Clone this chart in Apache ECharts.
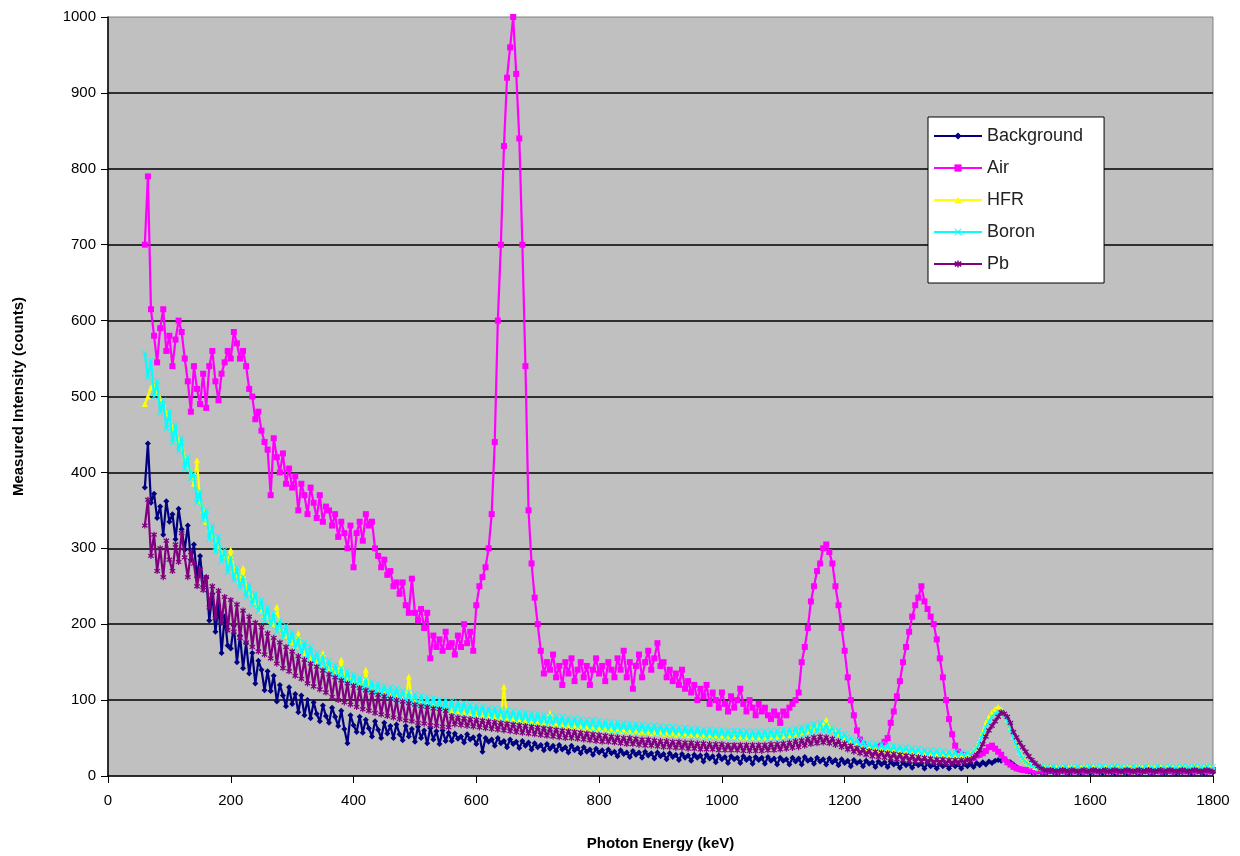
<!DOCTYPE html>
<html>
<head>
<meta charset="utf-8">
<script src="https://cdn.jsdelivr.net/npm/echarts@6/dist/echarts.min.js"></script>
<style>
  html, body { margin: 0; padding: 0; background: #fff; }
  #chart { width: 1240px; height: 856px; }
</style>
</head>
<body>
<div id="chart"></div>
<script>
// channel energies: first channel and spacing (keV)
const energyStart = 60;
const energyStep = 5;

const seriesNames = ['Background', 'Air', 'HFR', 'Boron', 'Pb'];
const seriesColors = ['#000080', '#ff00ff', '#ffff00', '#00ffff', '#800080'];

// each row = 100 keV (20 channels), last row 1760-1800
const background = [
  380, 438, 360, 372, 340, 355, 318, 362, 335, 345, 312, 352, 325, 298, 330, 285, 305, 262, 290, 250,
  262, 205, 240, 190, 225, 162, 210, 172, 168, 198, 150, 185, 142, 175, 135, 162, 122, 152, 140, 113,
  138, 112, 132, 98, 120, 106, 92, 117, 95, 108, 84, 106, 80, 100, 76, 97, 82, 72, 93, 79,
  70, 90, 78, 66, 86, 62, 43, 80, 67, 58, 78, 57, 74, 63, 52, 72, 61, 50, 70, 56,
  66, 50, 68, 55, 47, 66, 52, 62, 45, 65, 50, 60, 43, 63, 48, 59, 42, 60, 46, 57,
  46, 56, 49, 52, 44, 55, 48, 51, 42, 53, 32, 50, 45, 48, 40, 50, 43, 46, 38, 48,
  42, 45, 37, 46, 40, 44, 35, 43, 38, 41, 34, 42, 36, 40, 33, 41, 35, 38, 31, 40,
  34, 37, 30, 38, 32, 35, 28, 36, 31, 34, 27, 35, 30, 32, 26, 34, 29, 31, 25, 33,
  28, 31, 24, 32, 27, 30, 23, 31, 26, 29, 22, 30, 25, 28, 21, 29, 24, 27, 20, 28,
  24, 27, 19, 28, 23, 26, 18, 27, 22, 25, 17, 26, 22, 24, 17, 26, 21, 24, 16, 25,
  21, 24, 16, 25, 20, 23, 15, 24, 20, 22, 15, 24, 19, 23, 15, 25, 20, 22, 16, 24,
  19, 22, 15, 23, 18, 21, 14, 22, 17, 20, 13, 21, 17, 19, 13, 20, 16, 18, 12, 19,
  15, 18, 12, 19, 15, 17, 11, 18, 14, 16, 11, 17, 14, 16, 10, 17, 13, 15, 10, 16,
  13, 15, 10, 16, 13, 15, 10, 16, 13, 16, 12, 17, 14, 18, 15, 19, 17, 20, 21, 20,
  22, 19, 18, 15, 12, 9, 8, 7, 6, 5, 5, 6, 5, 4, 5, 6, 5, 4, 5, 6,
  5, 4, 5, 6, 5, 4, 5, 6, 4, 5, 6, 5, 4, 5, 6, 5, 4, 5, 6, 5,
  4, 5, 6, 5, 4, 5, 6, 5, 4, 5, 6, 5, 4, 5, 6, 5, 4, 5, 5, 6,
  5, 4, 5, 6, 5, 4, 5, 6, 5
];

const air = [
  700, 790, 615, 580, 545, 590, 615, 560, 580, 540, 575, 600, 585, 550, 520, 480, 540, 510, 490, 530,
  485, 540, 560, 520, 495, 530, 545, 560, 550, 585, 570, 550, 560, 540, 510, 500, 470, 480, 455, 440,
  430, 370, 445, 420, 400, 425, 385, 405, 380, 395, 350, 385, 370, 345, 380, 360, 340, 370, 335, 355,
  350, 330, 345, 315, 335, 320, 300, 330, 275, 320, 335, 310, 345, 330, 335, 300, 290, 275, 285, 265,
  270, 250, 255, 240, 255, 225, 215, 260, 215, 205, 220, 195, 215, 155, 185, 170, 180, 165, 190, 170,
  175, 160, 185, 170, 200, 175, 190, 165, 225, 250, 262, 275, 300, 345, 440, 600, 700, 830, 920, 960,
  1000, 925, 840, 700, 540, 350, 280, 235, 200, 165, 135, 150, 140, 160, 130, 145, 120, 150, 135, 155,
  125, 140, 150, 130, 145, 120, 140, 155, 135, 145, 125, 150, 140, 130, 155, 140, 165, 130, 150, 115,
  145, 160, 130, 150, 165, 140, 155, 175, 145, 150, 130, 140, 125, 135, 120, 140, 115, 125, 110, 120,
  100, 115, 105, 120, 95, 110, 100, 90, 110, 95, 85, 105, 90, 100, 115, 95, 85, 100, 90, 80,
  95, 85, 90, 80, 75, 85, 80, 70, 85, 80, 90, 95, 100, 110, 150, 170, 195, 230, 250, 270,
  280, 300, 305, 295, 280, 250, 225, 195, 165, 130, 100, 80, 60, 48, 42, 38, 35, 36, 34, 38,
  40, 45, 50, 70, 85, 105, 125, 150, 170, 190, 210, 225, 235, 250, 230, 220, 210, 200, 180, 155,
  130, 100, 75, 55, 40, 32, 28, 27, 25, 26, 24, 27, 28, 30, 33, 38, 40, 36, 32, 28,
  22, 18, 15, 12, 10, 9, 8, 8, 7, 8, 6, 7, 8, 6, 7, 8, 7, 6, 8, 7,
  6, 8, 7, 6, 7, 8, 6, 7, 8, 7, 6, 7, 8, 7, 6, 8, 7, 6, 7, 8,
  7, 6, 8, 7, 6, 7, 8, 7, 6, 7, 8, 6, 7, 8, 7, 6, 7, 8, 7, 6,
  7, 8, 6, 7, 8, 7, 6, 7, 8
];

const hfr = [
  490, 500, 512, 515, 505, 498, 490, 478, 470, 458, 455, 442, 435, 420, 410, 398, 385, 416, 362, 350,
  335, 325, 318, 310, 302, 295, 290, 282, 298, 272, 265, 258, 274, 248, 242, 236, 230, 225, 218, 212,
  210, 205, 200, 223, 195, 190, 185, 180, 176, 172, 188, 165, 162, 158, 155, 152, 150, 148, 162, 144,
  142, 140, 138, 136, 153, 130, 128, 126, 124, 122, 120, 118, 140, 115, 113, 112, 110, 109, 108, 106,
  105, 104, 103, 102, 101, 100, 131, 99, 98, 97, 96, 95, 94, 93, 92, 91, 90, 89, 88, 88,
  87, 86, 86, 85, 84, 84, 83, 82, 82, 81, 80, 80, 79, 78, 78, 77, 76, 118, 76, 75,
  75, 74, 74, 73, 73, 72, 72, 71, 71, 70, 70, 69, 83, 69, 68, 68, 67, 67, 66, 66,
  66, 65, 65, 64, 64, 64, 63, 63, 63, 62, 62, 62, 61, 61, 61, 60, 60, 60, 59, 59,
  59, 59, 58, 58, 58, 57, 57, 57, 57, 56, 56, 56, 56, 55, 55, 55, 55, 54, 54, 54,
  54, 54, 53, 53, 53, 53, 53, 52, 52, 52, 52, 52, 52, 52, 51, 51, 51, 51, 51, 51,
  51, 51, 51, 52, 52, 52, 52, 53, 53, 54, 54, 55, 56, 57, 58, 59, 60, 62, 63, 65,
  66, 67, 74, 64, 62, 58, 55, 51, 48, 46, 44, 42, 40, 39, 38, 37, 37, 36, 36, 35,
  35, 35, 34, 34, 33, 33, 32, 32, 31, 31, 31, 30, 30, 30, 29, 29, 29, 28, 28, 28,
  28, 28, 27, 27, 27, 27, 27, 27, 28, 29, 33, 38, 47, 58, 70, 78, 84, 88, 91, 88,
  82, 74, 64, 52, 41, 31, 24, 19, 16, 14, 12, 11, 12, 11, 11, 11, 11, 11, 11, 11,
  11, 11, 12, 11, 11, 11, 12, 11, 11, 12, 11, 11, 11, 12, 11, 11, 12, 11, 11, 11,
  12, 11, 11, 11, 12, 11, 11, 12, 11, 11, 11, 12, 11, 11, 12, 11, 11, 11, 12, 11,
  11, 11, 12, 11, 11, 11, 12, 11, 11
];

const boron = [
  557, 525, 548, 500, 520, 478, 495, 458, 480, 440, 462, 428, 445, 405, 420, 392, 398, 360, 375, 338,
  350, 312, 330, 296, 315, 283, 298, 268, 288, 258, 275, 248, 262, 236, 252, 226, 240, 218, 232, 205,
  222, 198, 214, 190, 205, 182, 198, 174, 190, 168, 182, 160, 176, 154, 170, 148, 162, 144, 158, 138,
  152, 132, 146, 128, 142, 124, 138, 120, 134, 117, 130, 114, 127, 111, 124, 108, 122, 106, 119, 104,
  117, 101, 115, 99, 112, 97, 110, 95, 108, 93, 106, 91, 104, 90, 103, 88, 101, 87, 100, 85,
  99, 84, 97, 83, 96, 82, 94, 80, 93, 79, 92, 78, 90, 77, 89, 76, 88, 75, 87, 74,
  86, 73, 85, 72, 84, 71, 83, 70, 82, 69, 81, 68, 80, 68, 79, 67, 78, 66, 77, 65,
  76, 65, 75, 64, 74, 63, 74, 62, 73, 62, 72, 61, 71, 60, 71, 60, 70, 59, 69, 58,
  69, 58, 68, 57, 67, 57, 67, 56, 66, 56, 65, 55, 65, 55, 64, 54, 64, 54, 63, 53,
  63, 53, 62, 52, 62, 52, 61, 51, 61, 51, 60, 50, 60, 50, 60, 50, 59, 49, 59, 49,
  59, 49, 59, 49, 60, 50, 60, 50, 61, 51, 62, 52, 63, 53, 65, 55, 67, 56, 69, 58,
  70, 59, 68, 57, 64, 53, 60, 49, 55, 45, 51, 42, 48, 39, 46, 37, 44, 36, 43, 35,
  42, 34, 41, 33, 40, 32, 39, 31, 38, 30, 37, 29, 36, 28, 35, 28, 34, 27, 34, 26,
  33, 26, 32, 25, 32, 25, 31, 26, 31, 28, 33, 37, 45, 55, 64, 72, 78, 82, 85, 84,
  80, 72, 62, 50, 40, 30, 23, 18, 15, 13, 14, 10, 13, 9, 12, 10, 13, 9, 12, 10,
  13, 9, 12, 10, 13, 9, 12, 10, 13, 9, 12, 10, 13, 9, 12, 10, 13, 9, 12, 10,
  12, 9, 13, 10, 12, 9, 13, 10, 12, 9, 13, 10, 12, 9, 13, 10, 12, 9, 13, 10,
  12, 10, 13, 9, 12, 10, 13, 9, 12
];

const pb = [
  330, 364, 290, 318, 270, 300, 262, 310, 285, 270, 305, 282, 320, 288, 262, 295, 280, 250, 272, 245,
  262, 222, 250, 208, 244, 202, 236, 192, 232, 190, 226, 182, 218, 176, 210, 170, 202, 164, 196, 160,
  188, 155, 182, 148, 176, 142, 170, 138, 164, 132, 158, 128, 153, 122, 148, 118, 144, 114, 139, 110,
  134, 104, 130, 100, 126, 97, 122, 94, 119, 91, 116, 88, 113, 86, 110, 83, 107, 81, 105, 79,
  102, 77, 100, 75, 98, 73, 96, 72, 94, 70, 92, 69, 91, 67, 89, 66, 88, 65, 86, 64,
  79, 68, 77, 67, 76, 66, 75, 65, 74, 64, 73, 63, 72, 62, 71, 61, 70, 60, 69, 59,
  68, 58, 67, 57, 66, 56, 65, 55, 64, 54, 63, 53, 62, 52, 61, 51, 60, 50, 59, 50,
  58, 49, 57, 48, 56, 47, 55, 46, 54, 45, 53, 45, 52, 44, 51, 43, 50, 42, 50, 42,
  49, 41, 48, 40, 48, 40, 47, 39, 46, 38, 46, 38, 45, 37, 45, 37, 44, 36, 44, 36,
  43, 35, 43, 35, 42, 35, 42, 34, 42, 34, 41, 34, 41, 34, 41, 33, 41, 33, 41, 33,
  41, 33, 41, 34, 42, 34, 42, 35, 43, 36, 44, 37, 46, 38, 47, 40, 49, 42, 51, 43,
  52, 44, 51, 43, 49, 41, 46, 38, 43, 35, 40, 32, 37, 30, 35, 28, 33, 26, 32, 25,
  31, 24, 30, 23, 29, 22, 28, 21, 27, 20, 26, 19, 25, 19, 24, 18, 23, 17, 22, 17,
  22, 16, 21, 16, 21, 17, 21, 18, 22, 20, 24, 28, 34, 42, 52, 60, 66, 72, 78, 84,
  82, 78, 70, 58, 51, 44, 38, 32, 26, 21, 17, 13, 10, 8, 7, 8, 7, 6, 7, 8,
  7, 6, 8, 7, 6, 7, 8, 6, 7, 8, 7, 6, 7, 8, 6, 7, 8, 7, 6, 7,
  8, 7, 6, 7, 8, 6, 7, 8, 7, 6, 7, 8, 6, 7, 8, 7, 6, 7, 8, 7,
  6, 7, 8, 7, 6, 7, 8, 7, 6
];

const xTicks = { min: 0, max: 1800, interval: 200 };
const yTicks = { min: 0, max: 1000, interval: 100 };

const symbols = [
  'diamond',
  'rect',
  'triangle',
  'path://M0,1L1,0L5,4L9,0L10,1L6,5L10,9L9,10L5,6L1,10L0,9L4,5Z',
  'path://M4,0L6,0L6,3L9,1L10,3L7,5L10,7L9,9L6,7L6,10L4,10L4,7L1,9L0,7L3,5L0,3L1,1L4,3Z'
];

function toPairs(values) {
  return values.map((v, i) => [energyStart + i * energyStep, v]);
}

const allValues = [background, air, hfr, boron, pb];

const chart = echarts.init(document.getElementById('chart'), null, { renderer: 'canvas' });

const option = {
  animation: false,
  backgroundColor: '#ffffff',
  textStyle: { fontFamily: 'Arial, "Liberation Sans", sans-serif', color: '#000' },
  grid: {
    left: 108, right: 27, top: 17, bottom: 80,
    show: true,
    backgroundColor: '#c0c0c0',
    borderColor: '#808080',
    borderWidth: 1
  },
  legend: {
    data: seriesNames,
    orient: 'vertical',
    left: 928,
    top: 117,
    itemWidth: 48,
    itemHeight: 9,
    itemGap: 14,
    padding: [10, 21, 10, 5],
    backgroundColor: '#ffffff',
    borderColor: '#000',
    borderWidth: 1,
    textStyle: { fontSize: 18, lineHeight: 18, color: '#222', fontFamily: 'Arial, "Liberation Sans", sans-serif' }
  },
  xAxis: {
    type: 'value',
    min: xTicks.min,
    max: xTicks.max,
    interval: xTicks.interval,
    name: 'Photon Energy (keV)',
    nameLocation: 'middle',
    nameGap: 60,
    nameTextStyle: { fontSize: 15, fontWeight: 'bold', color: '#000' },
    axisLine: { lineStyle: { color: '#000', width: 1.5 } },
    axisTick: { show: true, inside: false, length: 7, lineStyle: { color: '#000' } },
    axisLabel: {
      fontSize: 15, color: '#000', margin: 17, showMinLabel: true, showMaxLabel: true,
      formatter: v => String(v)
    },
    splitLine: { show: false }
  },
  yAxis: {
    type: 'value',
    min: yTicks.min,
    max: yTicks.max,
    interval: yTicks.interval,
    name: 'Measured Intensity (counts)',
    nameLocation: 'middle',
    nameGap: 82,
    nameTextStyle: { fontSize: 15, fontWeight: 'bold', color: '#000' },
    axisLine: { show: true, lineStyle: { color: '#000', width: 1.5 } },
    axisTick: { show: true, inside: false, length: 7, lineStyle: { color: '#000' } },
    axisLabel: { fontSize: 15, color: '#000', margin: 12, formatter: v => String(v) },
    splitLine: { show: true, showMinLine: false, showMaxLine: false, lineStyle: { color: '#000', width: 1.6 } }
  },
  series: seriesNames.map((name, k) => ({
    name: name,
    type: 'line',
    data: toPairs(allValues[k]),
    symbol: symbols[k],
    symbolSize: 6,
    showAllSymbol: true,
    color: seriesColors[k],
    lineStyle: { width: 2.2, color: seriesColors[k] },
    itemStyle: { color: seriesColors[k] },
    z: 2 + k
  }))
};

chart.setOption(option);
</script>
</body>
</html>
